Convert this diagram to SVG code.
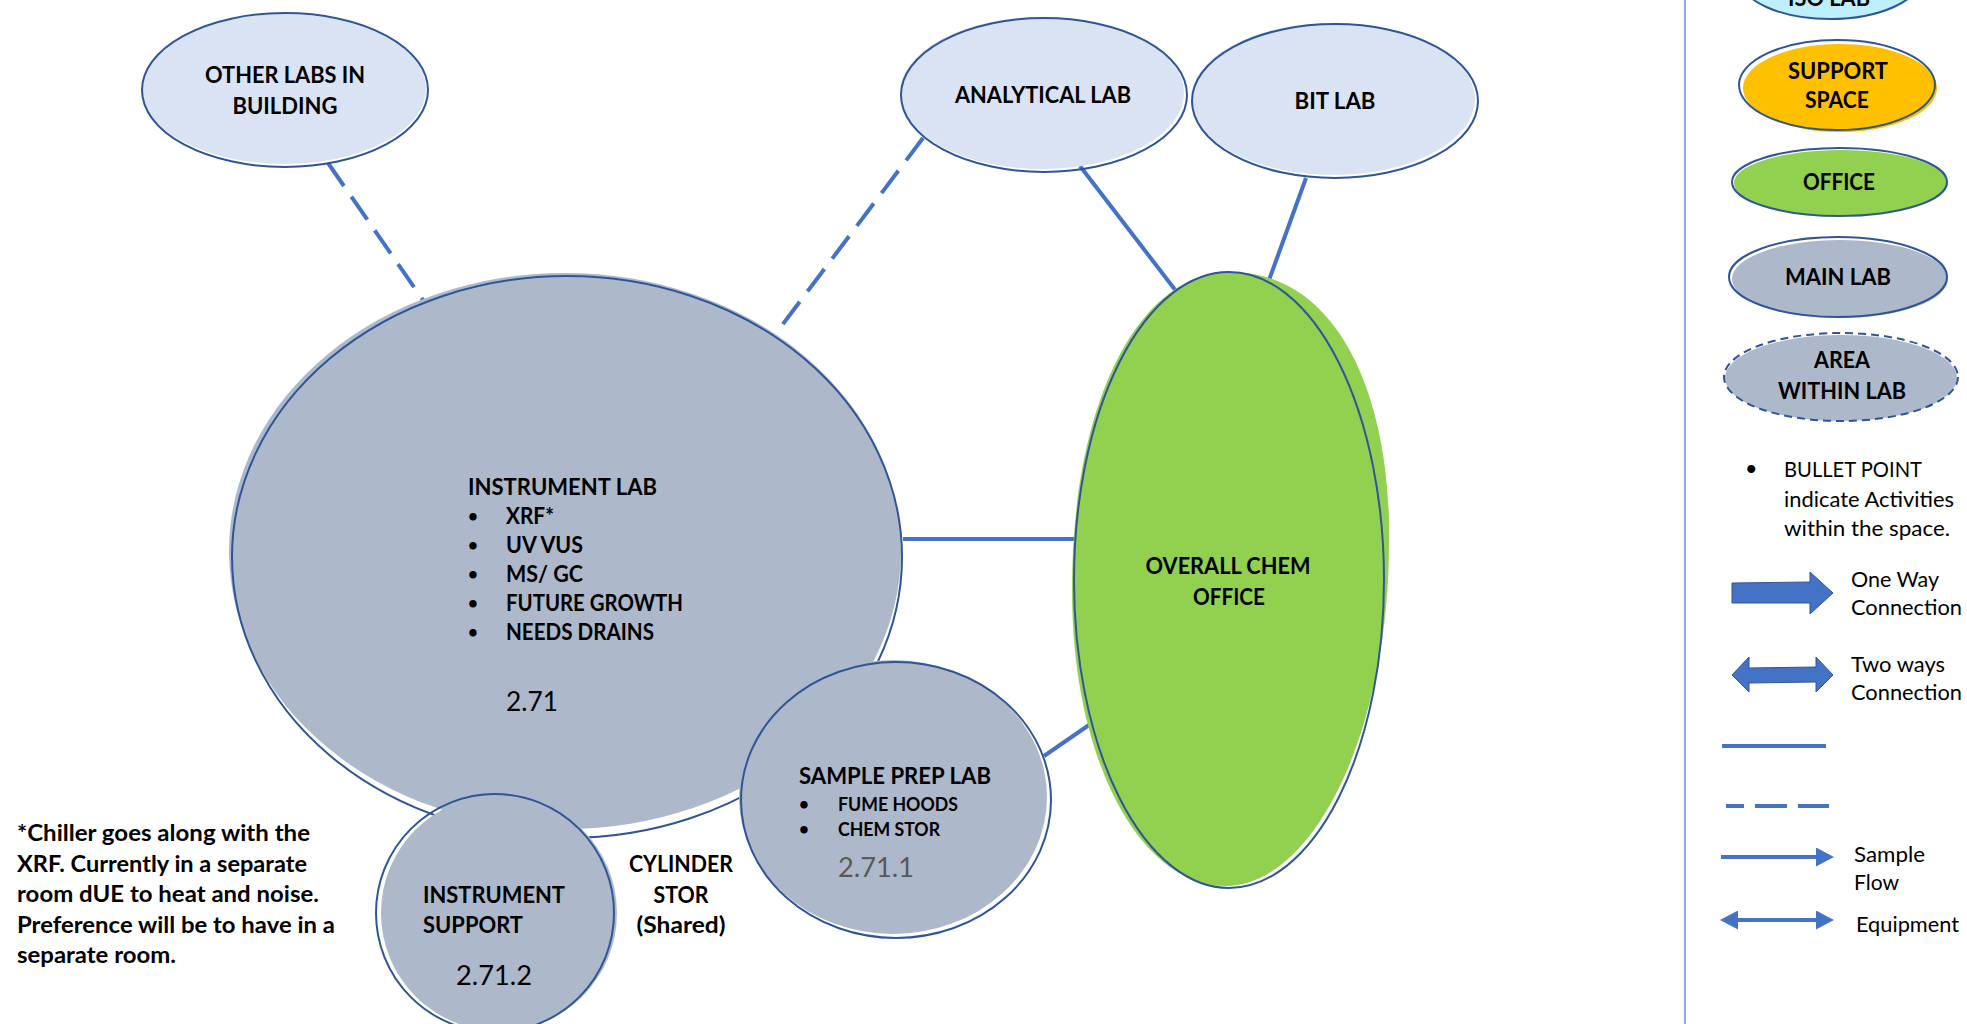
<svg xmlns="http://www.w3.org/2000/svg" width="1967" height="1024" viewBox="0 0 1967 1024">
  <style>
    .bold { font-family: Lato, "Liberation Sans", "DejaVu Sans", sans-serif; font-weight: 700; font-size: 22px; fill: #000; }
    .small { font-size: 19.5px; }
    .dot { font-size: 17px; }
    .reg { font-family: Lato, "Liberation Sans", "DejaVu Sans", sans-serif; font-weight: 400; font-size: 21.5px; fill: #000; }
    .num { font-family: Lato, "Liberation Sans", "DejaVu Sans", sans-serif; font-weight: 400; font-size: 26px; fill: #000; }
    .grey { fill: #595959; }
    .mid { text-anchor: middle; }
    .edge { fill: none; stroke: #2F5597; stroke-width: 2; }
    .dashedge { fill: none; stroke: #2F5597; stroke-width: 2; stroke-dasharray: 8 5; }
    .sky { fill: #DAE3F3; }
    .slate { fill: #ADB9CA; }
    .lime { fill: #92D050; }
    .amber { fill: #FFC000; }
    .cyan { fill: #BDF0FB; }
    .link { fill: none; stroke: #4472C4; stroke-width: 4; }
    .dash { stroke-dasharray: 28 13; }
    .block { fill: #4472C4; stroke: #2F5597; stroke-width: 1; }
  </style>
  <defs>
    <marker id="head" markerUnits="userSpaceOnUse" viewBox="0 0 18 19" markerWidth="18" markerHeight="19" refX="0" refY="9.5" orient="auto-start-reverse">
      <path d="M0,0 L18,9.5 L0,19 Z" fill="#4472C4"/>
    </marker>
  </defs>

  <rect width="1967" height="1024" fill="#FFFFFF"/>

  <!-- connectors between rooms -->
  <g id="connectors">
    <line class="link dash" x1="328" y1="163" x2="432" y2="313"/>
    <line class="link dash" x1="923" y1="138" x2="777" y2="332"/>
    <line class="link" x1="1080" y1="166" x2="1176" y2="291"/>
    <line class="link" x1="1306" y1="178" x2="1268" y2="283"/>
    <line class="link" x1="903" y1="539" x2="1077" y2="539"/>
    <line class="link" x1="1044" y1="756" x2="1089" y2="725"/>
  </g>

  <!-- rooms -->
  <g id="other-labs">
    <ellipse class="sky" cx="284" cy="89" rx="142" ry="75"/>
    <ellipse class="edge" cx="285" cy="90" rx="143" ry="77"/>
    <text class="bold mid" x="285" y="83" textLength="160" lengthAdjust="spacingAndGlyphs">OTHER LABS IN</text>
    <text class="bold mid" x="285" y="114" textLength="105" lengthAdjust="spacingAndGlyphs">BUILDING</text>
  </g>

  <g id="analytical-lab">
    <ellipse class="sky" cx="1042" cy="93" rx="142" ry="76"/>
    <ellipse class="edge" cx="1044" cy="95" rx="143" ry="77"/>
    <text class="bold mid" x="1043" y="103" textLength="176" lengthAdjust="spacingAndGlyphs">ANALYTICAL LAB</text>
  </g>

  <g id="bit-lab">
    <ellipse class="sky" cx="1333" cy="99" rx="142" ry="76"/>
    <ellipse class="edge" cx="1335" cy="101" rx="143" ry="77"/>
    <text class="bold mid" x="1335" y="109" textLength="81" lengthAdjust="spacingAndGlyphs">BIT LAB</text>
  </g>

  <g id="instrument-lab">
    <ellipse class="slate" cx="565" cy="551" rx="336" ry="278"/>
    <ellipse class="edge" cx="567" cy="557" rx="335" ry="281"/>
    <text class="bold" x="468" y="495" textLength="189" lengthAdjust="spacingAndGlyphs">INSTRUMENT LAB</text>
    <text class="bold dot" x="468" y="522">•</text>
    <text class="bold dot" x="468" y="551">•</text>
    <text class="bold dot" x="468" y="580">•</text>
    <text class="bold dot" x="468" y="609">•</text>
    <text class="bold dot" x="468" y="638">•</text>
    <text class="bold" x="506" y="524" textLength="48" lengthAdjust="spacingAndGlyphs">XRF*</text>
    <text class="bold" x="506" y="553" textLength="77" lengthAdjust="spacingAndGlyphs">UV VUS</text>
    <text class="bold" x="506" y="582" textLength="77" lengthAdjust="spacingAndGlyphs">MS/ GC</text>
    <text class="bold" x="506" y="611" textLength="177" lengthAdjust="spacingAndGlyphs">FUTURE GROWTH</text>
    <text class="bold" x="506" y="640" textLength="148" lengthAdjust="spacingAndGlyphs">NEEDS DRAINS</text>
    <text class="num" x="506" y="711" textLength="52" lengthAdjust="spacingAndGlyphs">2.71</text>
  </g>

  <g id="instrument-support">
    <ellipse class="slate" cx="499" cy="913" rx="118" ry="118"/>
    <ellipse class="edge" cx="495" cy="913" rx="119" ry="119"/>
    <text class="bold" x="423" y="903" textLength="142" lengthAdjust="spacingAndGlyphs">INSTRUMENT</text>
    <text class="bold" x="423" y="933" textLength="100" lengthAdjust="spacingAndGlyphs">SUPPORT</text>
    <text class="num" x="456" y="985" textLength="76" lengthAdjust="spacingAndGlyphs">2.71.2</text>
  </g>

  <g id="sample-prep-lab">
    <ellipse class="slate" cx="893" cy="797" rx="154" ry="137"/>
    <ellipse class="edge" cx="896" cy="800" rx="155" ry="138"/>
    <text class="bold" x="799" y="784" textLength="192" lengthAdjust="spacingAndGlyphs">SAMPLE PREP LAB</text>
    <text class="bold dot" x="799" y="810">•</text>
    <text class="bold dot" x="799" y="835">•</text>
    <text class="bold small" x="838" y="811" textLength="120" lengthAdjust="spacingAndGlyphs">FUME HOODS</text>
    <text class="bold small" x="838" y="836" textLength="102" lengthAdjust="spacingAndGlyphs">CHEM STOR</text>
    <text class="num grey" x="838" y="877" textLength="76" lengthAdjust="spacingAndGlyphs">2.71.1</text>
  </g>

  <g id="cylinder-stor">
    <text class="bold mid" x="681" y="872" textLength="104" lengthAdjust="spacingAndGlyphs">CYLINDER</text>
    <text class="bold mid" x="681" y="903" textLength="55" lengthAdjust="spacingAndGlyphs">STOR</text>
    <text class="bold mid" x="681" y="933" textLength="89" lengthAdjust="spacingAndGlyphs">(Shared)</text>
  </g>

  <g id="chem-office">
    <!-- hand-drawn fill, fuller at the upper right -->
    <path class="lime" d="M1230,272 C1340,272 1392,400 1389,545 C1388,740 1310,886 1226,886 C1140,886 1072,760 1072,590 C1072,400 1140,272 1230,272 Z"/>
    <ellipse class="edge" cx="1229" cy="580" rx="155" ry="308"/>
    <text class="bold mid" x="1228" y="574" textLength="165" lengthAdjust="spacingAndGlyphs">OVERALL CHEM</text>
    <text class="bold mid" x="1229" y="605" textLength="72" lengthAdjust="spacingAndGlyphs">OFFICE</text>
  </g>

  <g id="note">
    <text class="bold" x="17" y="841" textLength="293" lengthAdjust="spacingAndGlyphs">*Chiller goes along with the</text>
    <text class="bold" x="17" y="871.5" textLength="290" lengthAdjust="spacingAndGlyphs">XRF. Currently in a separate</text>
    <text class="bold" x="17" y="902" textLength="302" lengthAdjust="spacingAndGlyphs">room dUE to heat and noise.</text>
    <text class="bold" x="17" y="932.5" textLength="318" lengthAdjust="spacingAndGlyphs">Preference will be to have in a</text>
    <text class="bold" x="17" y="963" textLength="159" lengthAdjust="spacingAndGlyphs">separate room.</text>
  </g>

  <!-- key -->
  <g id="legend">
    <line x1="1685" y1="0" x2="1685" y2="1024" stroke="#8FAADC" stroke-width="2"/>

    <g id="key-iso-lab">
      <ellipse class="cyan" cx="1833" cy="-22" rx="91" ry="41"/>
      <ellipse class="edge" cx="1830" cy="-22" rx="90" ry="41"/>
      <text class="bold mid" x="1829" y="6" textLength="82" lengthAdjust="spacingAndGlyphs">ISO LAB</text>
    </g>
    <g id="key-support-space">
      <ellipse class="amber" cx="1840" cy="88" rx="97" ry="44"/>
      <ellipse class="edge" cx="1837" cy="85" rx="98" ry="45"/>
      <text class="bold mid" x="1838" y="79" textLength="100" lengthAdjust="spacingAndGlyphs">SUPPORT</text>
      <text class="bold mid" x="1837" y="108" textLength="64" lengthAdjust="spacingAndGlyphs">SPACE</text>
    </g>
    <g id="key-office">
      <ellipse class="lime" cx="1841" cy="183" rx="107" ry="33"/>
      <ellipse class="edge" cx="1839.5" cy="182" rx="107.5" ry="34"/>
      <text class="bold mid" x="1839" y="190" textLength="72" lengthAdjust="spacingAndGlyphs">OFFICE</text>
    </g>
    <g id="key-main-lab">
      <ellipse class="slate" cx="1840" cy="279" rx="108" ry="39"/>
      <ellipse class="edge" cx="1838" cy="277" rx="109" ry="40"/>
      <text class="bold mid" x="1838" y="285" textLength="106" lengthAdjust="spacingAndGlyphs">MAIN LAB</text>
    </g>
    <g id="key-area">
      <ellipse class="slate" cx="1841" cy="378" rx="116" ry="43"/>
      <ellipse class="dashedge" cx="1841" cy="377" rx="117" ry="44"/>
      <text class="bold mid" x="1842" y="368" textLength="56" lengthAdjust="spacingAndGlyphs">AREA</text>
      <text class="bold mid" x="1842" y="399" textLength="128" lengthAdjust="spacingAndGlyphs">WITHIN LAB</text>
    </g>

    <g id="key-bullet">
      <text class="reg dot" x="1745" y="476">•</text>
      <text class="reg" x="1784" y="477" textLength="138" lengthAdjust="spacingAndGlyphs">BULLET POINT</text>
      <text class="reg" x="1784" y="507" textLength="170" lengthAdjust="spacingAndGlyphs">indicate Activities</text>
      <text class="reg" x="1784" y="536" textLength="166" lengthAdjust="spacingAndGlyphs">within the space.</text>
    </g>

    <g id="key-one-way">
      <polygon class="block" points="1732,583 1810,582 1810,572 1833,593 1810,614 1810,603 1732,603"/>
      <text class="reg" x="1851" y="587" textLength="88" lengthAdjust="spacingAndGlyphs">One Way</text>
      <text class="reg" x="1851" y="615" textLength="111" lengthAdjust="spacingAndGlyphs">Connection</text>
    </g>
    <g id="key-two-way">
      <polygon class="block" points="1732,675 1749,657 1749,668 1816,667 1816,657 1833,675 1816,692 1816,682 1749,683 1749,692"/>
      <text class="reg" x="1851" y="672" textLength="94" lengthAdjust="spacingAndGlyphs">Two ways</text>
      <text class="reg" x="1851" y="700" textLength="111" lengthAdjust="spacingAndGlyphs">Connection</text>
    </g>

    <g id="key-lines">
      <line class="link" x1="1722" y1="746" x2="1826" y2="746"/>
      <line class="link" x1="1726" y1="806" x2="1744" y2="806"/>
      <line class="link" x1="1755" y1="806" x2="1787" y2="806"/>
      <line class="link" x1="1798" y1="806" x2="1829" y2="806"/>
    </g>

    <g id="key-sample-flow">
      <line class="link" x1="1721" y1="857" x2="1816" y2="857" marker-end="url(#head)"/>
      <text class="reg" x="1854" y="862" textLength="71" lengthAdjust="spacingAndGlyphs">Sample</text>
      <text class="reg" x="1854" y="890" textLength="45" lengthAdjust="spacingAndGlyphs">Flow</text>
    </g>
    <g id="key-equipment">
      <line class="link" x1="1738" y1="920" x2="1816" y2="920" marker-start="url(#head)" marker-end="url(#head)"/>
      <text class="reg" x="1856" y="932" textLength="103" lengthAdjust="spacingAndGlyphs">Equipment</text>
    </g>
  </g>
</svg>
